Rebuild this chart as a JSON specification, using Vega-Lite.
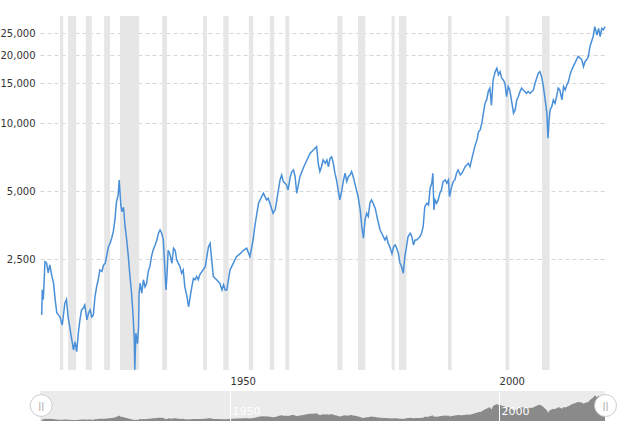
{
  "$schema": "https://vega.github.io/schema/vega-lite/v6.json",
  "padding": {"left": 0, "top": 16, "right": 8, "bottom": 0},
  "config": {
    "font": "DejaVu Sans",
    "view": {"stroke": null},
    "axis": {"labelFont": "DejaVu Sans", "labelFontSize": 10, "labelColor": "#333333", "title": null},
    "concat": {"spacing": 5}
  },
  "datasets": {
    "dow": [
      {"year": 1915.0, "value": 1419}, {"year": 1915.1, "value": 1833}, {"year": 1915.3, "value": 1660}, {"year": 1915.6, "value": 2441},
      {"year": 1915.9, "value": 2410}, {"year": 1916.2, "value": 2180}, {"year": 1916.5, "value": 2360}, {"year": 1916.9, "value": 2100},
      {"year": 1917.2, "value": 1960}, {"year": 1917.5, "value": 1660}, {"year": 1917.8, "value": 1450}, {"year": 1918.1, "value": 1420},
      {"year": 1918.4, "value": 1390}, {"year": 1918.8, "value": 1280}, {"year": 1919.0, "value": 1390}, {"year": 1919.3, "value": 1600},
      {"year": 1919.6, "value": 1660}, {"year": 1919.9, "value": 1390}, {"year": 1920.3, "value": 1217}, {"year": 1920.6, "value": 1099},
      {"year": 1920.9, "value": 993}, {"year": 1921.2, "value": 1080}, {"year": 1921.5, "value": 976}, {"year": 1921.8, "value": 1177},
      {"year": 1922.1, "value": 1349}, {"year": 1922.4, "value": 1494}, {"year": 1922.7, "value": 1520}, {"year": 1923.0, "value": 1570},
      {"year": 1923.4, "value": 1349}, {"year": 1923.7, "value": 1446}, {"year": 1924.0, "value": 1494}, {"year": 1924.3, "value": 1390},
      {"year": 1924.6, "value": 1420}, {"year": 1924.9, "value": 1710}, {"year": 1925.2, "value": 1890}, {"year": 1925.5, "value": 2030},
      {"year": 1925.8, "value": 2244}, {"year": 1926.2, "value": 2210}, {"year": 1926.5, "value": 2360}, {"year": 1926.8, "value": 2400},
      {"year": 1927.1, "value": 2613}, {"year": 1927.4, "value": 2843}, {"year": 1927.7, "value": 2940}, {"year": 1928.0, "value": 3100},
      {"year": 1928.3, "value": 3313}, {"year": 1928.6, "value": 3733}, {"year": 1928.9, "value": 4500}, {"year": 1929.2, "value": 4800},
      {"year": 1929.4, "value": 5610}, {"year": 1929.7, "value": 4350}, {"year": 1929.9, "value": 4060}, {"year": 1930.2, "value": 4250},
      {"year": 1930.5, "value": 3486}, {"year": 1930.8, "value": 3045}, {"year": 1931.1, "value": 2570}, {"year": 1931.4, "value": 2100},
      {"year": 1931.7, "value": 1770}, {"year": 1932.0, "value": 1390}, {"year": 1932.2, "value": 1099}, {"year": 1932.3, "value": 812},
      {"year": 1932.5, "value": 1180}, {"year": 1932.8, "value": 1060}, {"year": 1933.0, "value": 1250}, {"year": 1933.1, "value": 1770},
      {"year": 1933.3, "value": 1960}, {"year": 1933.6, "value": 1770}, {"year": 1933.9, "value": 2030}, {"year": 1934.2, "value": 1890},
      {"year": 1934.5, "value": 1960}, {"year": 1934.8, "value": 2210}, {"year": 1935.1, "value": 2320}, {"year": 1935.4, "value": 2570},
      {"year": 1935.7, "value": 2740}, {"year": 1936.1, "value": 2900}, {"year": 1936.4, "value": 3045}, {"year": 1936.7, "value": 3260},
      {"year": 1937.0, "value": 3370}, {"year": 1937.3, "value": 3260}, {"year": 1937.6, "value": 3045}, {"year": 1937.9, "value": 2244},
      {"year": 1938.1, "value": 1830}, {"year": 1938.3, "value": 2170}, {"year": 1938.5, "value": 2740}, {"year": 1938.8, "value": 2650},
      {"year": 1939.2, "value": 2400}, {"year": 1939.5, "value": 2800}, {"year": 1939.8, "value": 2740}, {"year": 1940.1, "value": 2480},
      {"year": 1940.4, "value": 2400}, {"year": 1940.7, "value": 2320}, {"year": 1941.0, "value": 2170}, {"year": 1941.3, "value": 2244},
      {"year": 1941.6, "value": 1890}, {"year": 1942.0, "value": 1710}, {"year": 1942.3, "value": 1540}, {"year": 1942.6, "value": 1710},
      {"year": 1942.9, "value": 1890}, {"year": 1943.2, "value": 2060}, {"year": 1943.5, "value": 2030}, {"year": 1943.8, "value": 2100},
      {"year": 1944.1, "value": 2030}, {"year": 1944.4, "value": 2140}, {"year": 1945.4, "value": 2320}, {"year": 1946.0, "value": 2843},
      {"year": 1946.3, "value": 2940}, {"year": 1946.6, "value": 2480}, {"year": 1946.9, "value": 2100}, {"year": 1947.5, "value": 2030},
      {"year": 1948.1, "value": 1960}, {"year": 1948.5, "value": 1830}, {"year": 1948.8, "value": 1930}, {"year": 1949.1, "value": 1830},
      {"year": 1949.4, "value": 1830}, {"year": 1949.7, "value": 2030}, {"year": 1950.0, "value": 2244}, {"year": 1950.3, "value": 2320},
      {"year": 1950.6, "value": 2400}, {"year": 1951.2, "value": 2570}, {"year": 1951.9, "value": 2650}, {"year": 1952.5, "value": 2740},
      {"year": 1953.1, "value": 2800}, {"year": 1953.7, "value": 2570}, {"year": 1954.3, "value": 3045}, {"year": 1954.6, "value": 3486},
      {"year": 1955.0, "value": 4000}, {"year": 1955.3, "value": 4425}, {"year": 1955.6, "value": 4580}, {"year": 1956.2, "value": 4900},
      {"year": 1956.8, "value": 4580}, {"year": 1957.1, "value": 4650}, {"year": 1957.4, "value": 4425}, {"year": 1957.8, "value": 4140},
      {"year": 1958.0, "value": 4000}, {"year": 1958.4, "value": 4140}, {"year": 1958.7, "value": 4580}, {"year": 1959.0, "value": 5070},
      {"year": 1959.3, "value": 5610}, {"year": 1959.6, "value": 5904}, {"year": 1959.9, "value": 5520}, {"year": 1960.5, "value": 5340},
      {"year": 1960.8, "value": 5070}, {"year": 1961.2, "value": 5800}, {"year": 1961.5, "value": 6110}, {"year": 1961.8, "value": 6210},
      {"year": 1962.1, "value": 5800}, {"year": 1962.4, "value": 4900}, {"year": 1962.7, "value": 5340}, {"year": 1963.0, "value": 5800},
      {"year": 1963.6, "value": 6320}, {"year": 1964.3, "value": 6880}, {"year": 1964.9, "value": 7370}, {"year": 1965.5, "value": 7620},
      {"year": 1965.8, "value": 7750}, {"year": 1966.1, "value": 7880}, {"year": 1966.4, "value": 6650}, {"year": 1966.7, "value": 6110},
      {"year": 1967.0, "value": 6420}, {"year": 1967.3, "value": 6880}, {"year": 1967.7, "value": 6650}, {"year": 1968.0, "value": 6880},
      {"year": 1968.3, "value": 6420}, {"year": 1968.6, "value": 7000}, {"year": 1968.9, "value": 7100}, {"year": 1969.2, "value": 6650},
      {"year": 1969.5, "value": 6010}, {"year": 1969.8, "value": 5610}, {"year": 1970.1, "value": 5070}, {"year": 1970.4, "value": 4580},
      {"year": 1970.8, "value": 5070}, {"year": 1971.1, "value": 5610}, {"year": 1971.4, "value": 6010}, {"year": 1971.7, "value": 5520},
      {"year": 1972.0, "value": 5800}, {"year": 1972.3, "value": 5904}, {"year": 1972.6, "value": 6110}, {"year": 1972.9, "value": 5800},
      {"year": 1973.2, "value": 5420}, {"year": 1973.5, "value": 5070}, {"year": 1973.8, "value": 4735}, {"year": 1974.2, "value": 4140},
      {"year": 1974.5, "value": 3486}, {"year": 1974.8, "value": 3100}, {"year": 1975.1, "value": 3733}, {"year": 1975.4, "value": 4000},
      {"year": 1975.7, "value": 3870}, {"year": 1976.0, "value": 4425}, {"year": 1976.3, "value": 4580}, {"year": 1976.6, "value": 4425},
      {"year": 1977.0, "value": 4200}, {"year": 1977.3, "value": 3870}, {"year": 1977.6, "value": 3610}, {"year": 1977.9, "value": 3370},
      {"year": 1978.2, "value": 3260}, {"year": 1978.5, "value": 3150}, {"year": 1978.8, "value": 3045}, {"year": 1979.1, "value": 3150},
      {"year": 1979.4, "value": 2940}, {"year": 1979.7, "value": 2843}, {"year": 1980.1, "value": 2650}, {"year": 1980.4, "value": 2843},
      {"year": 1980.7, "value": 2890}, {"year": 1981.0, "value": 2800}, {"year": 1981.3, "value": 2650}, {"year": 1981.6, "value": 2400},
      {"year": 1981.9, "value": 2320}, {"year": 1982.2, "value": 2170}, {"year": 1982.5, "value": 2570}, {"year": 1982.8, "value": 2843},
      {"year": 1983.1, "value": 3150}, {"year": 1983.5, "value": 3260}, {"year": 1983.8, "value": 3150}, {"year": 1984.1, "value": 2890},
      {"year": 1984.4, "value": 3045}, {"year": 1984.7, "value": 3045}, {"year": 1985.3, "value": 3150}, {"year": 1985.6, "value": 3260},
      {"year": 1985.9, "value": 3486}, {"year": 1986.2, "value": 4275}, {"year": 1986.6, "value": 4425}, {"year": 1986.9, "value": 4350},
      {"year": 1987.2, "value": 5157}, {"year": 1987.5, "value": 5420}, {"year": 1987.7, "value": 6010}, {"year": 1987.9, "value": 4140},
      {"year": 1988.1, "value": 4580}, {"year": 1988.4, "value": 4425}, {"year": 1988.7, "value": 4580}, {"year": 1989.0, "value": 4900},
      {"year": 1989.3, "value": 5070}, {"year": 1989.6, "value": 5520}, {"year": 1990.0, "value": 5610}, {"year": 1990.3, "value": 5420},
      {"year": 1990.6, "value": 5610}, {"year": 1990.8, "value": 4735}, {"year": 1991.2, "value": 5250}, {"year": 1991.5, "value": 5520},
      {"year": 1991.8, "value": 5610}, {"year": 1992.1, "value": 6010}, {"year": 1992.4, "value": 6210}, {"year": 1992.8, "value": 5904},
      {"year": 1993.1, "value": 6010}, {"year": 1993.4, "value": 6210}, {"year": 1993.7, "value": 6420}, {"year": 1994.0, "value": 6530},
      {"year": 1994.3, "value": 6650}, {"year": 1994.6, "value": 6420}, {"year": 1994.9, "value": 6880}, {"year": 1995.2, "value": 7370},
      {"year": 1995.5, "value": 7880}, {"year": 1995.9, "value": 8437}, {"year": 1996.2, "value": 9180}, {"year": 1996.5, "value": 9340},
      {"year": 1996.8, "value": 10000}, {"year": 1997.1, "value": 11070}, {"year": 1997.4, "value": 12260}, {"year": 1997.7, "value": 12680},
      {"year": 1998.0, "value": 13800}, {"year": 1998.3, "value": 14300}, {"year": 1998.6, "value": 12000}, {"year": 1998.9, "value": 15530},
      {"year": 1999.3, "value": 16920}, {"year": 1999.6, "value": 17500}, {"year": 1999.9, "value": 16360}, {"year": 2000.2, "value": 16920},
      {"year": 2000.5, "value": 15820}, {"year": 2000.8, "value": 15530}, {"year": 2001.1, "value": 15020}, {"year": 2001.4, "value": 13120},
      {"year": 2001.7, "value": 14530}, {"year": 2002.0, "value": 14030}, {"year": 2002.4, "value": 12260}, {"year": 2002.7, "value": 11070},
      {"year": 2003.0, "value": 11450}, {"year": 2003.3, "value": 12680}, {"year": 2003.6, "value": 13120}, {"year": 2003.9, "value": 13800},
      {"year": 2004.2, "value": 14300}, {"year": 2004.5, "value": 14030}, {"year": 2004.8, "value": 13800}, {"year": 2005.1, "value": 13560},
      {"year": 2005.4, "value": 13800}, {"year": 2005.8, "value": 13560}, {"year": 2006.1, "value": 13800}, {"year": 2006.4, "value": 14030},
      {"year": 2006.7, "value": 15020}, {"year": 2007.0, "value": 15820}, {"year": 2007.3, "value": 16650}, {"year": 2007.6, "value": 16920},
      {"year": 2007.9, "value": 16100}, {"year": 2008.2, "value": 14770}, {"year": 2008.5, "value": 13120}, {"year": 2008.9, "value": 11070},
      {"year": 2009.1, "value": 8580}, {"year": 2009.3, "value": 10340}, {"year": 2009.5, "value": 11450}, {"year": 2009.8, "value": 11840},
      {"year": 2010.1, "value": 12680}, {"year": 2010.4, "value": 12260}, {"year": 2010.7, "value": 13120}, {"year": 2011.0, "value": 14300},
      {"year": 2011.3, "value": 14030}, {"year": 2011.7, "value": 12680}, {"year": 2012.0, "value": 14530}, {"year": 2012.3, "value": 14030},
      {"year": 2012.6, "value": 14770}, {"year": 2012.9, "value": 15270}, {"year": 2013.2, "value": 16360}, {"year": 2013.5, "value": 17180},
      {"year": 2013.8, "value": 17800}, {"year": 2014.1, "value": 18440}, {"year": 2014.4, "value": 19070}, {"year": 2014.7, "value": 19740},
      {"year": 2015.1, "value": 19400}, {"year": 2015.4, "value": 19070}, {"year": 2015.7, "value": 17800}, {"year": 2016.0, "value": 18750},
      {"year": 2016.3, "value": 19070}, {"year": 2016.6, "value": 19740}, {"year": 2016.9, "value": 21810}, {"year": 2017.2, "value": 22970},
      {"year": 2017.5, "value": 24190}, {"year": 2017.8, "value": 26730}, {"year": 2018.2, "value": 24520}, {"year": 2018.5, "value": 26270},
      {"year": 2018.8, "value": 24190}, {"year": 2019.1, "value": 26270}, {"year": 2019.4, "value": 25880}, {"year": 2019.7, "value": 26730}
    ],
    "rec": [
      {"start": 1918.4, "end": 1919.0}, {"start": 1919.9, "end": 1921.4}, {"start": 1923.2, "end": 1924.3},
      {"start": 1926.6, "end": 1927.7}, {"start": 1929.55, "end": 1933.1}, {"start": 1937.4, "end": 1938.3},
      {"start": 1945.0, "end": 1945.7}, {"start": 1948.75, "end": 1949.75}, {"start": 1953.5, "end": 1954.3},
      {"start": 1957.4, "end": 1958.2}, {"start": 1960.3, "end": 1961.0}, {"start": 1969.95, "end": 1970.9},
      {"start": 1973.8, "end": 1975.15}, {"start": 1980.05, "end": 1980.6}, {"start": 1981.4, "end": 1982.8},
      {"start": 1990.5, "end": 1991.2}, {"start": 2001.2, "end": 2001.9}, {"start": 2008.0, "end": 2009.4}
    ],
    "handles": [
      {"year": 1914.9, "value": 16000}, {"year": 2019.8, "value": 16000}
    ]
  },
  "vconcat": [
    {
      "width": 565,
      "height": 354,
      "layer": [
        {
          "data": {"name": "rec"},
          "mark": {"type": "rect", "color": "#e6e6e6"},
          "encoding": {
            "x": {"field": "start", "type": "quantitative",
                  "scale": {"domain": [1914.68, 2019.7], "nice": false, "zero": false},
                  "axis": {"values": [1950, 2000], "format": "d", "grid": false, "domain": false, "ticks": false,
                           "labelAlign": "left", "labelPadding": 6, "labelFlush": false}},
            "x2": {"field": "end"}
          }
        },
        {
          "data": {"name": "dow"},
          "mark": {"type": "line", "color": "#4a90d9", "strokeWidth": 1.5},
          "encoding": {
            "x": {"field": "year", "type": "quantitative"},
            "y": {"field": "value", "type": "quantitative",
                  "scale": {"type": "log", "domain": [810, 29800], "nice": false},
                  "axis": {"values": [2500, 5000, 10000, 15000, 20000, 25000], "format": ",d",
                           "grid": true, "gridDash": [4, 3], "gridColor": "#d6d6d6", "domain": false, "ticks": false,
                           "labelPadding": 5, "labelFlush": false}}
          }
        }
      ]
    },
    {
      "width": 565,
      "height": 30,
      "view": {"fill": "#ebebeb", "stroke": null},
      "layer": [
        {
          "data": {"name": "dow"},
          "mark": {"type": "area", "color": "#8a8a8a", "opacity": 1},
          "encoding": {
            "x": {"field": "year", "type": "quantitative",
                  "scale": {"domain": [1914.68, 2019.7], "nice": false, "zero": false},
                  "axis": {"values": [1950, 2000], "format": "d", "grid": true, "gridColor": "#ffffff", "gridOpacity": 1,
                           "domain": false, "ticks": false, "labelAlign": "left", "labelColor": "#ffffff",
                           "labelFontSize": 11, "labelPadding": -16, "labelBaseline": "top", "labelOffset": 2,
                           "labelFlush": false, "zindex": 1}},
            "y": {"field": "value", "type": "quantitative", "scale": {"domain": [0, 31000], "nice": false}, "axis": null}
          }
        },
        {
          "data": {"name": "handles"},
          "mark": {"type": "point", "shape": "circle", "size": 480, "filled": true, "fill": "#ffffff", "stroke": "#cccccc", "strokeWidth": 1, "opacity": 1},
          "encoding": {
            "x": {"field": "year", "type": "quantitative"},
            "y": {"field": "value", "type": "quantitative"}
          }
        },
        {
          "data": {"name": "handles"},
          "mark": {"type": "text", "text": "||", "fontSize": 9, "color": "#999999"},
          "encoding": {
            "x": {"field": "year", "type": "quantitative"},
            "y": {"field": "value", "type": "quantitative"}
          }
        }
      ]
    }
  ]
}
